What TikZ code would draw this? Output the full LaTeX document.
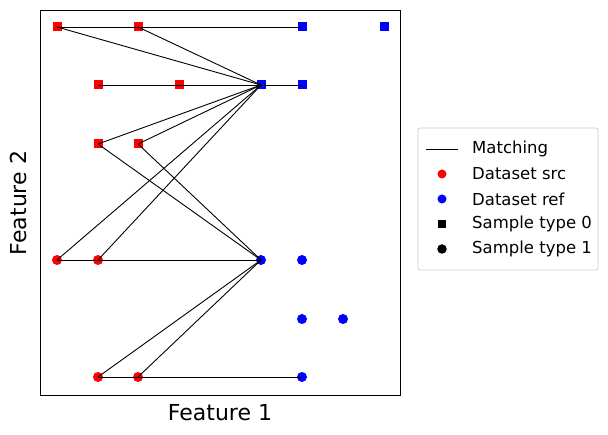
\documentclass[tikz,border=0pt]{standalone}
\usepackage{fontspec}
\setmainfont{DejaVu Sans}
\begin{document}
\begin{tikzpicture}[x=1pt,y=-1pt,
 sq/.style={rectangle,minimum size=9pt,inner sep=0pt},
 ci/.style={circle,minimum size=10pt,inner sep=0pt},
 rs/.style={sq,fill=red}, bs/.style={sq,fill=blue},
 rc/.style={ci,fill=red}, bc/.style={ci,fill=blue},
 match/.style={black,line width=0.9pt},
 lbl/.style={font=\fontsize{16.5}{18}\selectfont,anchor=west,inner sep=0pt}]
\useasboundingbox (0,0) rectangle (608,435);
\fill[white] (0,0) rectangle (608,435);
\node[rs] (a1) at (57,27) {};
\node[rs] (a2) at (138,27) {};
\node[rs] (a3) at (98,85) {};
\node[rs] (a4) at (179,85) {};
\node[rs] (a5) at (98,144) {};
\node[rs] (a6) at (138,144) {};
\node[bs] (b1) at (302,27) {};
\node[bs] (b2) at (384,27) {};
\node[bs] (b3) at (261,85) {};
\node[bs] (b4) at (302,85) {};
\node[rc] (c1) at (57,260) {};
\node[rc] (c2) at (98,260) {};
\node[rc] (c3) at (98,377) {};
\node[rc] (c4) at (138,377) {};
\node[bc] (d1) at (261,260) {};
\node[bc] (d2) at (302,260) {};
\node[bc] (d3) at (302,319) {};
\node[bc] (d4) at (343,319) {};
\node[bc] (d5) at (302,377) {};
\foreach \p/\q in {a1/b1,a2/b1,a1/b3,a2/b3,a3/b3,a4/b4,a5/b3,a6/b3,a5/d1,a6/d1,c1/b3,c2/b3,c1/d1,c3/d1,c4/d1,c3/d5}
 {\draw[match] (\p.center) -- (\q.center);}
\draw[line width=0.9pt] (40,10) rectangle (400,395);
\node[font=\fontsize{22}{24}\selectfont] (xl) at (220,413) {Feature 1};
\node[font=\fontsize{22}{24}\selectfont,rotate=90] (yl) at (18,203) {Feature 2};
\draw[rounded corners=2pt,draw=black!20,line width=0.8pt,fill=white] (418,128) rectangle (598,270);
\coordinate (l1) at (426,149); \coordinate (l2) at (458,149);
\draw[match] (l1) -- (l2);
\node[lbl] (t1) at (472,149) {Matching};
\node[circle,fill=red,inner sep=0pt,minimum size=9pt] (m2) at (442,174) {};
\node[lbl] (t2) at (472,174) {Dataset src};
\node[circle,fill=blue,inner sep=0pt,minimum size=9pt] (m3) at (442,199) {};
\node[lbl] (t3) at (472,199) {Dataset ref};
\node[sq,fill=black,minimum size=8.5pt] (m4) at (442,224) {};
\node[lbl] (t4) at (472,224) {Sample type 0};
\node[ci,fill=black,minimum size=9.5pt] (m5) at (442,249) {};
\node[lbl] (t5) at (472,249) {Sample type 1};
\end{tikzpicture}
\end{document}
